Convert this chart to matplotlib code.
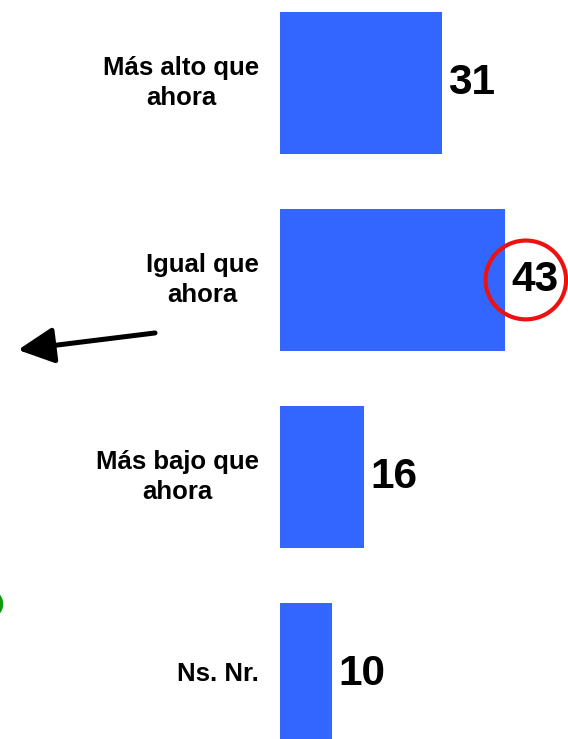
import numpy as np
import matplotlib.pyplot as plt
from matplotlib.patches import Ellipse

# Datos del gráfico
categorias = ['Más alto que\nahora', 'Igual que\nahora', 'Más bajo que\nahora', 'Ns. Nr.']
valores = [31, 43, 16, 10]

plt.rcParams['font.family'] = ['Liberation Sans', 'DejaVu Sans']

fig = plt.figure(figsize=(5.68, 7.39), dpi=100)
ax = fig.add_axes([0, 0, 1, 1])

y = np.arange(len(valores))
ax.barh(y, valores, height=0.72, color='#3366FF')

# escala: 0 en x=280 px, ~5.23 px por unidad
ax.set_xlim(-280 / 5.23, 288 / 5.23)
ax.set_ylim(3.33, -0.421)
ax.axis('off')

# etiquetas de categoria a la izquierda
for yi, cat in zip(y, categorias):
    ax.annotate(cat, xy=(0, yi), xytext=(-15, 0), textcoords='offset points',
                ha='right', va='center', multialignment='center',
                fontsize=18.5, fontweight='bold', linespacing=1.32)

# valores a la derecha de cada barra
for yi, v in zip(y, valores):
    ax.annotate(str(v), xy=(v, yi), xytext=(4.5, 0), textcoords='offset points',
                ha='left', va='center', fontsize=30.5, fontweight='bold')

# circulo rojo alrededor del 43
ax.add_patch(Ellipse((valores[1] + 4.0, 1.0), 15.4, 0.40, fill=False,
                     edgecolor='#EE1111', lw=3))

# flecha negra
ax.annotate('', xy=(-50.1, 1.355), xytext=(-23.9, 1.269),
            arrowprops=dict(arrowstyle='-|>,head_length=2.2,head_width=1.1',
                            mutation_scale=10, lw=3.6, color='black',
                            shrinkA=0, shrinkB=0))

# arco verde en el borde izquierdo
ax.add_patch(Ellipse((-55.8, 2.645), 4.97, 0.132, fill=False,
                     edgecolor='#119911', lw=3))

fig.savefig('out.png', dpi=100)
